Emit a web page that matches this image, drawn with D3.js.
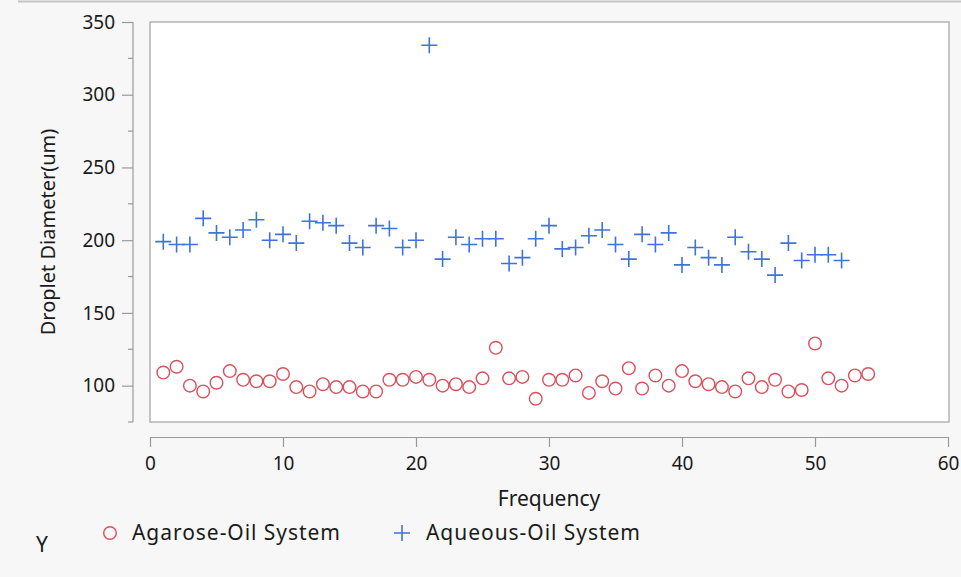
<!DOCTYPE html>
<html>
<head>
<meta charset="utf-8">
<script src="https://cdn.jsdelivr.net/npm/d3@7"></script>
<style>
  body { margin: 0; background: #f7f7f7; }
  svg { display: block; font-family: "Noto Sans", "Open Sans", sans-serif; }
</style>
</head>
<body>
<div id="chart"></div>
<script>
// Frequency index for each series
const agaroseX = d3.range(1, 55);
const aqueousX = d3.range(1, 53);

// Droplet diameter (um)
const agaroseY = [109, 113, 100, 96, 102, 110, 104, 103, 103, 108,
  99, 96, 101, 99, 99, 96, 96, 104, 104, 106,
  104, 100, 101, 99, 105, 126, 105, 106, 91, 104,
  104, 107, 95, 103, 98, 112, 98, 107, 100, 110,
  103, 101, 99, 96, 105, 99, 104, 96, 97, 129,
  105, 100, 107, 108];

const aqueousY = [199, 197, 197, 215, 205, 202, 207, 214, 200, 204,
  198, 213, 212, 210, 198, 195, 210, 208, 195, 200,
  334, 187, 202, 197, 201, 201, 184, 188, 201, 210,
  194, 195, 203, 207, 197, 187, 204, 197, 205, 183,
  195, 188, 183, 202, 192, 187, 176, 198, 186, 190,
  190, 186];

const xTicks = [0, 10, 20, 30, 40, 50, 60];
const yTicks = [100, 150, 200, 250, 300, 350];
const yMinorTicks = [75, 125, 175, 225, 275, 325];

const seriesNames = ["Agarose-Oil System", "Aqueous-Oil System"];
const red = "#d9505c";
const blue = "#3f72dc";
const ink = "#1a1a1a";

const W = 961, H = 577;
const plot = { left: 150, right: 948, top: 22, bottom: 422 };

const svg = d3.select("#chart").append("svg")
    .attr("width", W)
    .attr("height", H);

svg.append("rect").attr("width", W).attr("height", H).attr("fill", "#f7f7f7");
svg.append("line")
    .attr("x1", 18).attr("x2", W).attr("y1", 1.5).attr("y2", 1.5)
    .attr("stroke", "#c4c4c4").attr("stroke-width", 2);

const x = d3.scaleLinear().domain([0, 60]).range([plot.left, plot.right]);
const y = d3.scaleLinear().domain([75, 350]).range([plot.bottom, plot.top]);

// plot frame
svg.append("rect")
    .attr("x", plot.left).attr("y", plot.top)
    .attr("width", plot.right - plot.left + 1)
    .attr("height", plot.bottom - plot.top)
    .attr("fill", "#fff")
    .attr("stroke", "#b4b4b4")
    .attr("stroke-width", 1.5);

// y axis
const yAxisX = 133;
const yAxis = svg.append("g").attr("transform", `translate(${yAxisX},0)`);
yAxis.call(d3.axisLeft(y).tickValues(yTicks).tickSize(11).tickPadding(7));
yAxis.append("g").selectAll("line").data(yMinorTicks).join("line")
    .attr("x1", -5).attr("x2", 0)
    .attr("y1", d => y(d)).attr("y2", d => y(d));
yAxis.select(".domain").attr("d", `M0,${y(75)}V${y(350)}`);
yAxis.selectAll("line, .domain").attr("stroke", "#9a9a9a").attr("stroke-width", 1.2);
yAxis.selectAll("text").attr("font-size", 19).attr("fill", ink)
    .attr("font-family", "'Noto Sans', sans-serif");

// x axis
const xAxisY = 437;
const xAxis = svg.append("g").attr("transform", `translate(0,${xAxisY})`);
xAxis.call(d3.axisBottom(x).tickValues(xTicks).tickSize(10).tickPadding(10).tickSizeOuter(0));
xAxis.selectAll("line, .domain").attr("stroke", "#9a9a9a").attr("stroke-width", 1.2);
xAxis.selectAll("text").attr("font-size", 19).attr("fill", ink)
    .attr("font-family", "'Noto Sans', sans-serif");

// axis titles
svg.append("text")
    .attr("x", (plot.left + plot.right) / 2).attr("y", 506)
    .attr("text-anchor", "middle").attr("font-size", 21).attr("fill", ink)
    .text("Frequency");
svg.append("text")
    .attr("transform", `translate(55,${(plot.top + plot.bottom) / 2 + 10}) rotate(-90)`)
    .attr("text-anchor", "middle").attr("font-size", 20).attr("fill", ink)
    .text("Droplet Diameter(um)");

// points
const g = svg.append("g");
g.selectAll("circle").data(agaroseY).join("circle")
    .attr("cx", (d, i) => x(agaroseX[i]))
    .attr("cy", d => y(d))
    .attr("r", 6.3)
    .attr("fill", "none")
    .attr("stroke", red)
    .attr("stroke-width", 1.4);

const cross = 8;
g.selectAll("path.plus").data(aqueousY).join("path")
    .attr("class", "plus")
    .attr("d", (d, i) => {
      const cx = x(aqueousX[i]), cy = y(d);
      return `M${cx - cross},${cy}H${cx + cross}M${cx},${cy - cross}V${cy + cross}`;
    })
    .attr("fill", "none")
    .attr("stroke", blue)
    .attr("stroke-width", 1.6);

// legend
const leg = svg.append("g").attr("font-size", 21);
leg.append("text").attr("x", 36).attr("y", 552).attr("fill", ink).text("Y");
leg.append("circle").attr("cx", 110).attr("cy", 533).attr("r", 6.3)
    .attr("fill", "none").attr("stroke", red).attr("stroke-width", 1.4);
leg.append("text").attr("x", 132).attr("y", 540).attr("fill", ink)
    .attr("textLength", 208).text(seriesNames[0]);
leg.append("path")
    .attr("d", `M${402 - cross},533H${402 + cross}M402,${533 - cross}V${533 + cross}`)
    .attr("stroke", blue).attr("stroke-width", 1.6);
leg.append("text").attr("x", 426).attr("y", 540).attr("fill", ink)
    .attr("textLength", 214).text(seriesNames[1]);
</script>
</body>
</html>
